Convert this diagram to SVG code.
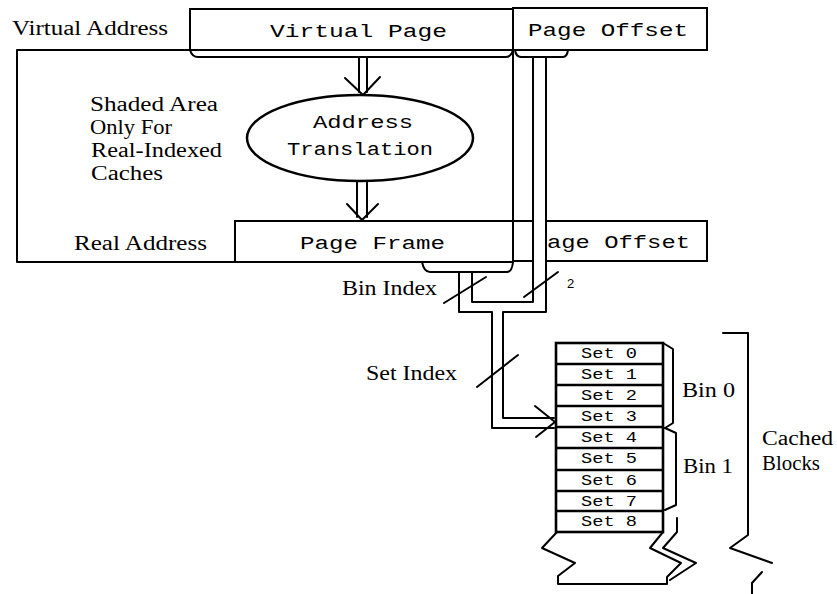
<svg xmlns="http://www.w3.org/2000/svg" width="837" height="594" viewBox="0 0 837 594">
<style>
.ln{fill:none;stroke:#000;stroke-width:2;stroke-linejoin:round;stroke-linecap:round}
.box{fill:#fff;stroke:#000;stroke-width:2}
.thick{fill:none;stroke:#000;stroke-width:2.6}
.serif{font-family:"Liberation Serif","Times New Roman",serif;font-size:20px;fill:#000}
.mono{font-family:"Liberation Mono","Courier New",monospace;font-size:19px;fill:#000}
.small{font-family:"Liberation Mono","Courier New",monospace;font-size:14px;fill:#000}
</style>
<rect width="837" height="594" fill="#fff"/>

<g id="shaded-frame">
<path class="ln" d="M190,50 H17 V262 H235 M513,50 V221"/>
<text class="serif" x="90" y="111" textLength="128" lengthAdjust="spacingAndGlyphs">Shaded Area</text>
<text class="serif" x="90" y="134" textLength="82" lengthAdjust="spacingAndGlyphs">Only For</text>
<text class="serif" x="91" y="157" textLength="131" lengthAdjust="spacingAndGlyphs">Real-Indexed</text>
<text class="serif" x="91" y="180" textLength="72" lengthAdjust="spacingAndGlyphs">Caches</text>
</g>

<g id="virtual-address">
<text class="serif" x="12" y="35" textLength="156" lengthAdjust="spacingAndGlyphs">Virtual Address</text>
<rect class="box" x="190" y="9" width="323" height="41"/>
<text class="mono" x="270" y="37" textLength="177" lengthAdjust="spacingAndGlyphs">Virtual Page</text>
<rect class="box" x="513" y="8" width="194" height="42"/>
<text class="mono" x="528" y="36" textLength="160" lengthAdjust="spacingAndGlyphs">Page Offset</text>
<path class="ln" d="M190,50 Q192,57 198,57 H506 Q511,57 513,50"/>
<path class="ln" d="M515,50 Q516,57 521,57 H563 Q567,57 568,50"/>
</g>

<g id="address-translation">
<ellipse cx="360" cy="138" rx="113" ry="43" fill="#fff" stroke="#000" stroke-width="2.5"/>
<text class="mono" x="313" y="128" textLength="100" lengthAdjust="spacingAndGlyphs">Address</text>
<text class="mono" x="287" y="155" textLength="146" lengthAdjust="spacingAndGlyphs">Translation</text>
</g>

<g id="real-address">
<text class="serif" x="74" y="250" textLength="133" lengthAdjust="spacingAndGlyphs">Real Address</text>
<rect class="box" x="235" y="221" width="278" height="41"/>
<text class="mono" x="300" y="249" textLength="145" lengthAdjust="spacingAndGlyphs">Page Frame</text>
<rect class="box" x="513" y="221" width="194" height="40"/>
<text class="mono" x="547" y="248" textLength="143" lengthAdjust="spacingAndGlyphs">age Offset</text>
<path class="ln" d="M422,262 Q424,272 430,272 H507 Q512,272 513,262"/>
</g>

<g id="connectors">
<path class="ln" d="M359,57 V92 M367,57 V92"/>
<path class="ln" d="M345,78 L363,95 L380,77"/>
<path class="ln" d="M357,181 V217 M367,181 V217"/>
<path class="ln" d="M347,204 L362,220 L378,204"/>
<rect x="534" y="58" width="12" height="244" fill="#fff"/>
<path class="ln" d="M533,57 V302 H472 V272"/>
<path class="ln" d="M546,57 V312 H503 V418 H554"/>
<path class="ln" d="M459,272 V312 H492 V428 H554"/>
<path class="ln" d="M535,406 L555,422 L536,437" stroke-width="2.5"/>
<path class="ln" d="M444,303 L486,277"/>
<path class="ln" d="M524,297 L558,272"/>
<path class="ln" d="M477,387 L518,355" stroke-width="2.5"/>
</g>

<g id="labels">
<text class="serif" x="342" y="295" textLength="95" lengthAdjust="spacingAndGlyphs">Bin Index</text>
<text x="567" y="288" font-family="Liberation Sans, Arial, sans-serif" font-size="13">2</text>
<text class="serif" x="366" y="380" textLength="91" lengthAdjust="spacingAndGlyphs">Set Index</text>
</g>

<g id="cache-sets">
<rect x="556" y="343" width="107" height="189" fill="#fff" stroke="#000" stroke-width="2.6"/>
<path class="thick" d="M556,364 H663 M556,385 H663 M556,406 H663 M556,427 H663 M556,448 H663 M556,470 H663 M556,491 H663 M556,511 H663"/>
<path class="ln" d="M557,532 L542,548 L575,563 L558,576 V584 H667 V577 L681,563 L650,548 L663,532"/>
<path class="ln" d="M677,518 V532 L663,548 L696,563 L670,580"/>
<g text-anchor="middle">
<text class="small" x="609" y="358" textLength="56" lengthAdjust="spacingAndGlyphs">Set 0</text>
<text class="small" x="609" y="379" textLength="56" lengthAdjust="spacingAndGlyphs">Set 1</text>
<text class="small" x="609" y="400" textLength="56" lengthAdjust="spacingAndGlyphs">Set 2</text>
<text class="small" x="609" y="421" textLength="56" lengthAdjust="spacingAndGlyphs">Set 3</text>
<text class="small" x="609" y="442" textLength="56" lengthAdjust="spacingAndGlyphs">Set 4</text>
<text class="small" x="609" y="463" textLength="56" lengthAdjust="spacingAndGlyphs">Set 5</text>
<text class="small" x="609" y="485" textLength="56" lengthAdjust="spacingAndGlyphs">Set 6</text>
<text class="small" x="609" y="506" textLength="56" lengthAdjust="spacingAndGlyphs">Set 7</text>
<text class="small" x="609" y="526" textLength="56" lengthAdjust="spacingAndGlyphs">Set 8</text>
</g>
</g>

<g id="bin-0">
<path class="ln" d="M663,343 L673,349 V423 L665,428"/>
<text class="serif" x="682" y="397" textLength="53" lengthAdjust="spacingAndGlyphs">Bin 0</text>
</g>
<g id="bin-1">
<path class="ln" d="M665,428 L676,433 V505 L665,510"/>
<text class="serif" x="683" y="473" textLength="50" lengthAdjust="spacingAndGlyphs">Bin 1</text>
</g>
<g id="cached-blocks">
<path class="ln" d="M723,333 H748 V535 L730,548 L772,563 M762,572 L752,583 V594"/>
<text class="serif" x="762" y="445" textLength="71" lengthAdjust="spacingAndGlyphs">Cached</text>
<text class="serif" x="762" y="470" textLength="58" lengthAdjust="spacingAndGlyphs">Blocks</text>
</g>
</svg>
